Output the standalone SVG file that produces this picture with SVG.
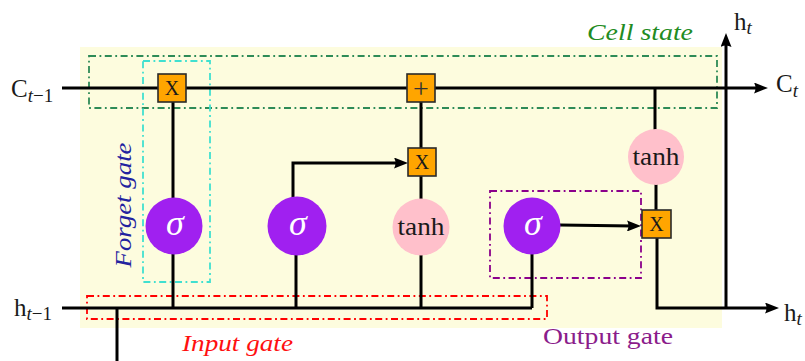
<svg xmlns="http://www.w3.org/2000/svg" width="805" height="361" viewBox="0 0 805 361" font-family="'Liberation Serif', 'Times New Roman', serif">
<style>
.bg{fill:#FDFCDE;stroke:none}
.dd{fill:none;stroke-width:1.8;stroke-dasharray:7 3.5 1.8 3.5}
.wire{fill:none;stroke:#000;stroke-width:3}
.arr{marker-end:url(#ah)}
.box{fill:#FFA500;stroke:#2a2a2a;stroke-width:1.6}
.sig{fill:#A020F0}
.th{fill:#FFC0CB}
text{font-family:"Liberation Serif","Times New Roman",serif}
.it{font-style:italic}
.sg{font-style:italic;font-size:36px;fill:#fff;text-anchor:middle}
.tt{font-size:25px;fill:#1a1a1a;text-anchor:middle}
.bx{font-size:20px;fill:#1a1a1a;text-anchor:middle}
.pl{font-size:28px;fill:#333;text-anchor:middle}
.lb{font-size:25px;fill:#1a1a1a}
.sub{font-size:19px}
.ann{font-size:23px}
</style>
<defs>
<marker id="ah" viewBox="0 0 14 11" markerWidth="14" markerHeight="11" refX="6" refY="5.5" orient="auto" markerUnits="userSpaceOnUse">
<path d="M0,0 L14,5.5 L0,11 Q3,5.5 0,0 Z" fill="#000"/>
</marker>
</defs>
<rect class="bg" x="80" y="47" width="642" height="281"/>
<g id="annotations">
<rect class="dd" x="89" y="56" width="628" height="52" stroke="#2E8B57"/>
<rect class="dd" x="143" y="61" width="67" height="221" stroke="#40E0D0"/>
<rect class="dd" x="87" y="296" width="460" height="23" stroke="#FF0000"/>
<rect class="dd" x="490" y="191" width="151" height="87" stroke="#8B008B"/>
<text class="it ann" x="587" y="40" fill="#228B22" textLength="106" lengthAdjust="spacingAndGlyphs">Cell state</text>
<text class="it ann" x="131" y="205" fill="#2323A0" text-anchor="middle" transform="rotate(-90 131 205)" textLength="125" lengthAdjust="spacingAndGlyphs">Forget gate</text>
<text class="it ann" x="182" y="351" fill="#FF1010" textLength="111" lengthAdjust="spacingAndGlyphs">Input gate</text>
<text class="ann" x="543" y="344" fill="#8B1C8B" textLength="130" lengthAdjust="spacingAndGlyphs">Output gate</text>
</g>
<g id="connectors">
<path class="wire arr" d="M62,88 H760"/>
<path class="wire" d="M62,308 H532"/>
<path class="wire" d="M117,308 V361"/>
<path class="wire" d="M173,102 V198"/>
<path class="wire" d="M173,254 V308"/>
<path class="wire arr" d="M293,199 V163 H400"/>
<path class="wire" d="M296,254 V308"/>
<path class="wire" d="M421,102 V148"/>
<path class="wire" d="M421,176 V200"/>
<path class="wire" d="M421,254 V308"/>
<path class="wire" d="M532,254 V308"/>
<path class="wire arr" d="M560,225 L633,226"/>
<path class="wire" d="M655,88 V130"/>
<path class="wire" d="M656,184 V210"/>
<path class="wire arr" d="M657,238 V308 H771"/>
<path class="wire arr" d="M726,308 V41"/>
</g>
<g id="forget-mult"><rect class="box" x="158" y="74" width="28" height="28"/><text class="bx" x="172" y="95">X</text></g>
<g id="cell-add"><rect class="box" x="407" y="74" width="28" height="28"/><text class="pl" x="421" y="97.5">+</text></g>
<g id="input-mult"><rect class="box" x="408" y="148" width="28" height="28"/><text class="bx" x="422" y="169">X</text></g>
<g id="output-mult"><rect class="box" x="642" y="210" width="29" height="28"/><text class="bx" x="656.5" y="231">X</text></g>
<g id="forget-sigma"><circle class="sig" cx="174" cy="226" r="28.5"/><text class="sg" x="175" y="235">σ</text></g>
<g id="input-sigma"><circle class="sig" cx="297" cy="226" r="29.5"/><text class="sg" x="298" y="235">σ</text></g>
<g id="input-tanh"><circle class="th" cx="421" cy="227" r="28.5"/><text class="tt" x="421" y="235" textLength="47" lengthAdjust="spacingAndGlyphs">tanh</text></g>
<g id="output-sigma"><circle class="sig" cx="532" cy="226" r="28.5"/><text class="sg" x="533" y="235">σ</text></g>
<g id="output-tanh"><circle class="th" cx="656" cy="157" r="28"/><text class="tt" x="656" y="165" textLength="47" lengthAdjust="spacingAndGlyphs">tanh</text></g>
<g id="labels">
<text class="lb" x="11" y="97">C<tspan class="it sub" dy="5">t</tspan><tspan class="sub">−1</tspan></text>
<text class="lb" x="14" y="316">h<tspan class="it sub" dy="4">t</tspan><tspan class="sub">−1</tspan></text>
<text class="lb" x="734" y="30">h<tspan class="it sub" dy="4">t</tspan></text>
<text class="lb" x="776" y="92">C<tspan class="it sub" dy="5">t</tspan></text>
<text class="lb" x="784" y="321">h<tspan class="it sub" dy="4">t</tspan></text>
</g>
</svg>
